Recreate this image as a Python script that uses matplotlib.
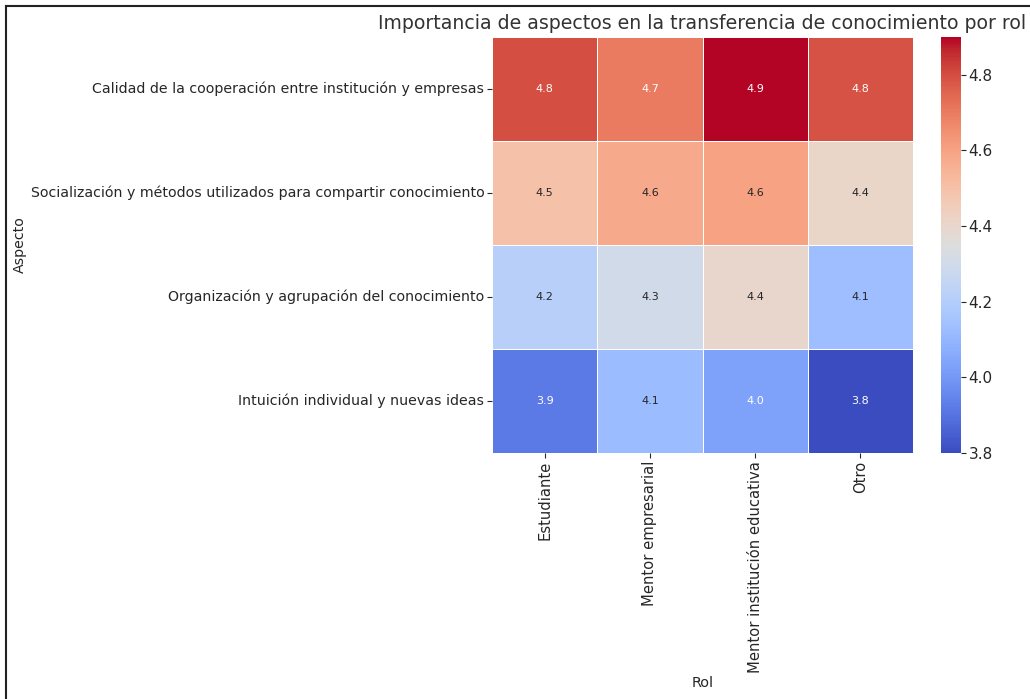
import matplotlib
matplotlib.use("Agg")
import matplotlib.pyplot as plt
from matplotlib.lines import Line2D
import numpy as np
import pandas as pd
import seaborn as sns

aspectos = [
    "Calidad de la cooperación entre institución y empresas",
    "Socialización y métodos utilizados para compartir conocimiento",
    "Organización y agrupación del conocimiento",
    "Intuición individual y nuevas ideas",
]
roles = ["Estudiante", "Mentor empresarial", "Mentor institución educativa", "Otro"]

estudiante = [4.80, 4.50, 4.21, 3.92]
mentor_empresarial = [4.70, 4.58, 4.30, 4.12]
mentor_institucion = [4.90, 4.60, 4.40, 4.03]
otro = [4.79, 4.41, 4.13, 3.80]

df = pd.DataFrame(
    np.column_stack([estudiante, mentor_empresarial, mentor_institucion, otro]),
    index=aspectos, columns=roles,
)

W, H = 1030, 699
fig = plt.figure(figsize=(W / 100, H / 100), dpi=100)
ax = fig.add_axes([492 / W, 1 - 453 / H, (913 - 492) / W, (453 - 37) / H])
cax = fig.add_axes([941 / W, 1 - 453 / H, 20 / W, (453 - 37) / H])

sns.heatmap(df, ax=ax, cbar_ax=cax, cmap="coolwarm", annot=True, fmt=".1f",
            linewidths=0.5, linecolor="white", annot_kws={"size": 8})

ax.set_title("Importancia de aspectos en la transferencia de conocimiento por rol",
             fontsize=13.6, color="#333333", pad=6)
ax.set_xlabel("Rol", fontsize=10.4, color="#262626")
ax.set_ylabel("Aspecto", fontsize=10.2, color="#262626")
ax.tick_params(axis="y", labelsize=10.2, colors="#262626", pad=2)
ax.tick_params(axis="x", labelsize=10.6, colors="#262626", pad=2)
plt.setp(ax.get_xticklabels(), rotation=90)
plt.setp(ax.get_yticklabels(), rotation=0)
ax.xaxis.set_label_coords(0.5, -0.536)
ax.yaxis.set_label_coords(-1.105, 0.5)

cax.tick_params(labelsize=11, colors="#262626", pad=2)
cax.set_yticks([3.8, 4.0, 4.2, 4.4, 4.6, 4.8])

# screenshot frame
fig.add_artist(Line2D([5.5 / W, 5.5 / W], [0, 1 - 6 / H], color="#222222", lw=1.5))
fig.add_artist(Line2D([5.5 / W, 1], [1 - 6 / H, 1 - 6 / H], color="#222222", lw=1.5))

fig.savefig("out.png", dpi=100)
